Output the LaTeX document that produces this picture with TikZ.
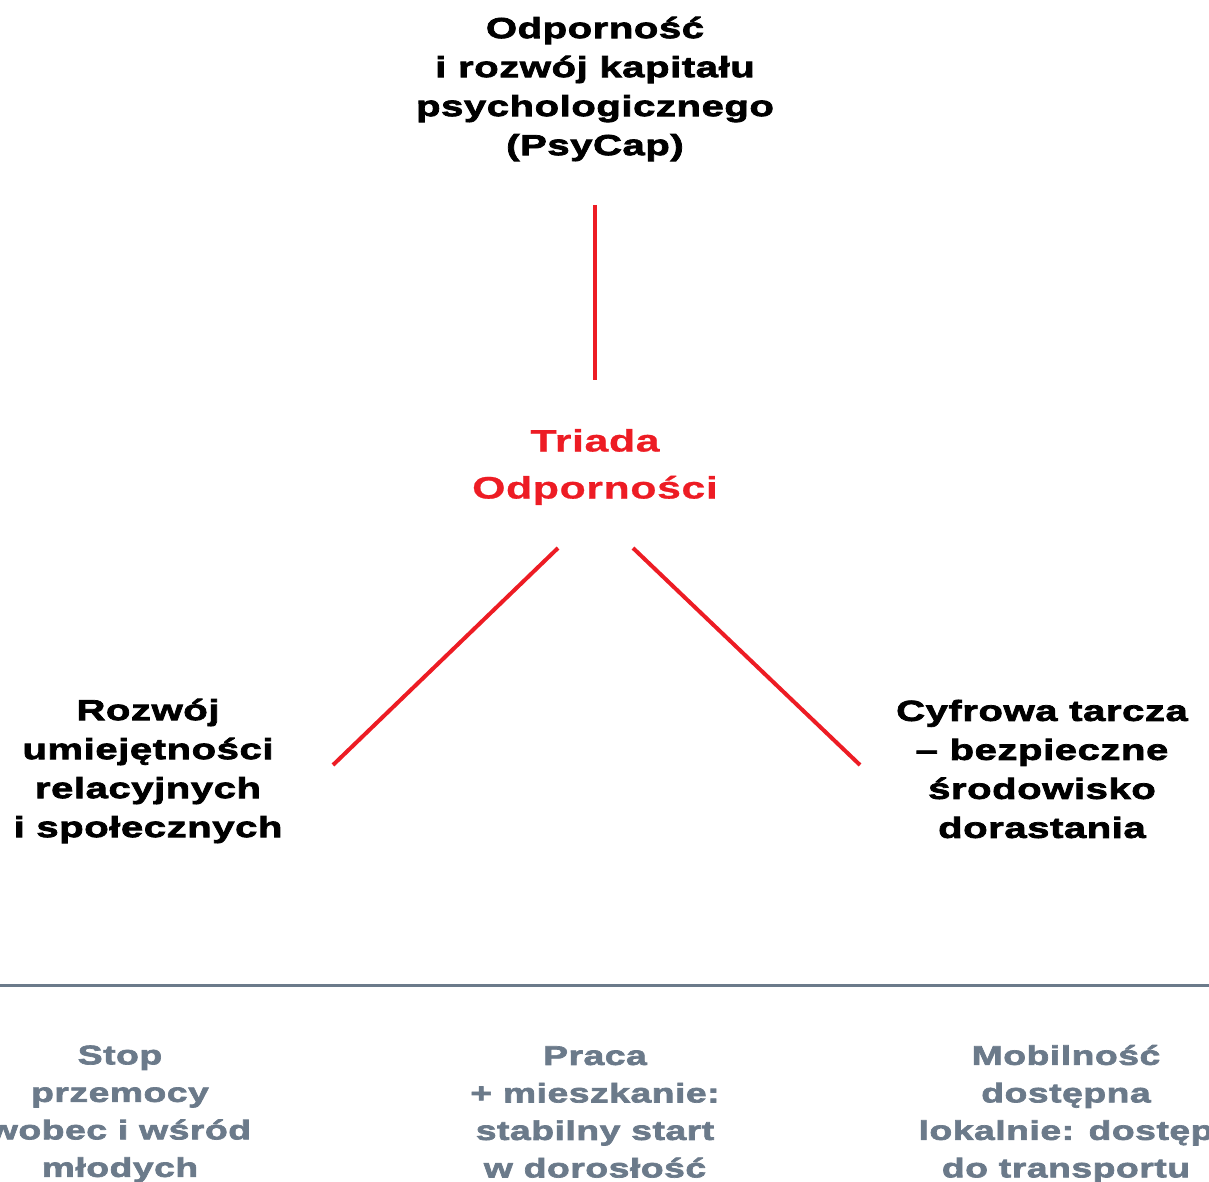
\documentclass[tikz,border=0pt]{standalone}
\usepackage{fontspec}
\usepackage{tikz}
\usetikzlibrary{positioning}
\newfontfamily\widefont{Liberation Sans}[FakeStretch=1.38, LetterSpace=2, FakeBold=2.6]
\newfontfamily\hubfont{Liberation Sans}[FakeStretch=1.38, LetterSpace=2, FakeBold=0.8]
\definecolor{triadred}{HTML}{ED1C24}
\definecolor{slate}{HTML}{6B7A8A}

\begin{document}
\begin{tikzpicture}[x=1pt, y=-1pt,
		main/.style = {align=center, inner sep=0pt, font=\widefont\bfseries\fontsize{29}{39}\selectfont},
		hub/.style = {main, text=triadred, font=\hubfont\bfseries\fontsize{31}{47}\selectfont},
		note/.style = {main, text=slate, font=\widefont\bfseries\fontsize{27}{37.5}\selectfont},
		link/.style = {draw=triadred, line width=4pt}]
		\useasboundingbox (0,0) rectangle (1209,1182);
		\node[main] (top) at (595,89) {Odporność\\i rozwój kapitału\\psychologicznego\\(PsyCap)};
		\node[hub] (triad) at (595,467) {Triada\\Odporności};
		\node[main] (left) at (148,771) {Rozwój\\umiejętności\\relacyjnych\\i społecznych};
		\node[main] (right) at (1042,769) {Cyfrowa tarcza\\– bezpieczne\\środowisko\\dorastania};
		\node[note] (stop) at (120,1114) {Stop\\przemocy\\wobec i wśród\\młodych};
		\node[note] (work) at (595,1112) {Praca\\+ mieszkanie:\\stabilny start\\w dorosłość};
		\node[note] (move) at (1066,1114) {Mobilność\\dostępna\\lokalnie: dostęp\\do transportu};
		% ends of the red links
		\coordinate (t1) at (595,205);
		\coordinate (t2) at (595,380);
		\coordinate (l1) at (558,548);
		\coordinate (l2) at (333,765);
		\coordinate (r1) at (633,548);
		\coordinate (r2) at (860,765);
		\draw[link] (t1) -- (t2);
		\draw[link] (l1) -- (l2);
		\draw[link] (r1) -- (r2);
		% divider
		\coordinate (d1) at (0,985);
		\coordinate (d2) at (1209,985);
		\draw[slate, line width=3pt] (d1) -- (d2);
	\end{tikzpicture}
\end{document}
